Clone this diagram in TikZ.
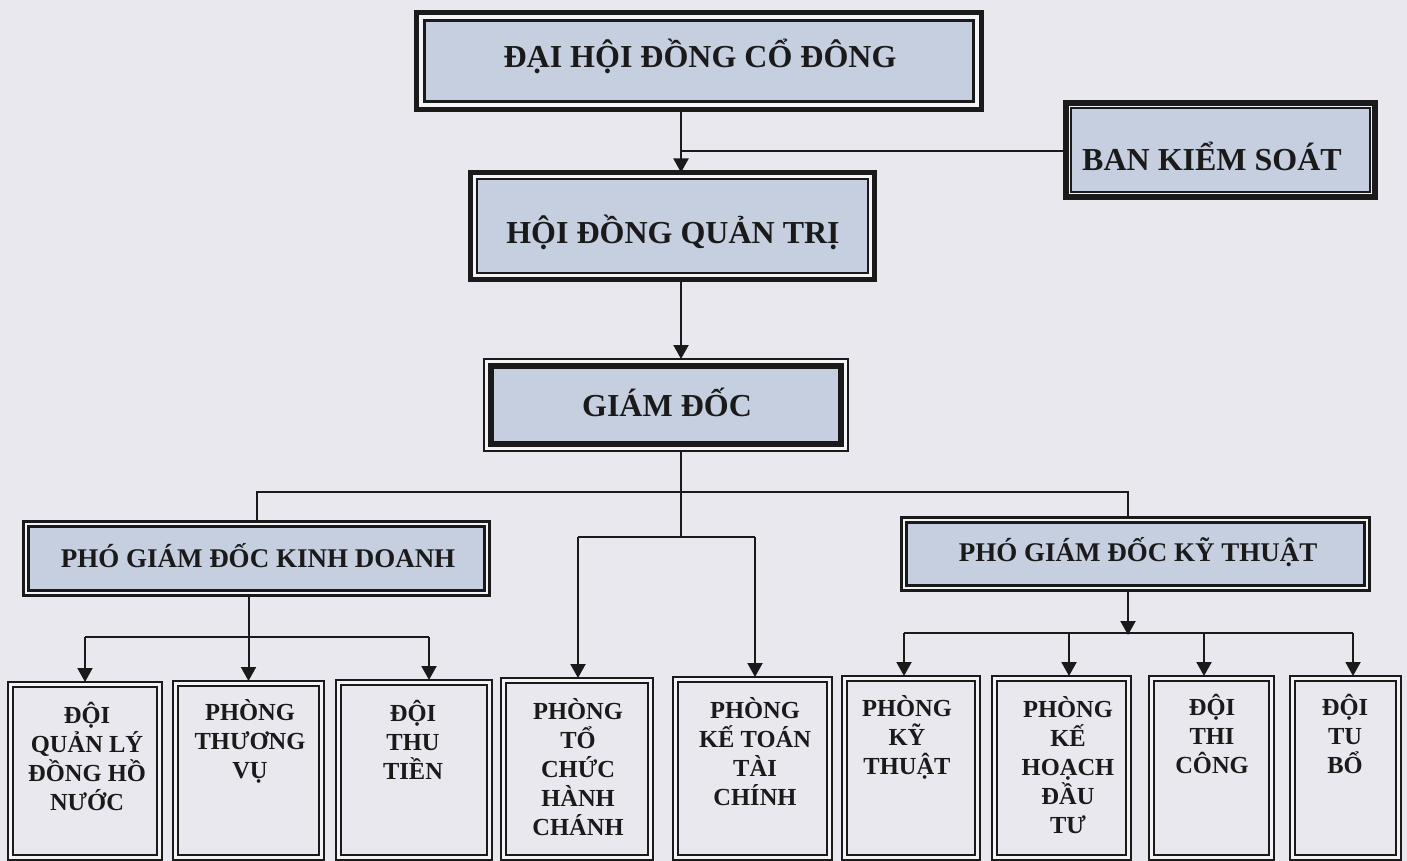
\documentclass[tikz,border=0pt]{standalone}
\usepackage{fontspec}
\setmainfont{Liberation Serif}
\usetikzlibrary{fit,arrows.meta}
\definecolor{bgc}{HTML}{E8E8EE}
\definecolor{boxc}{HTML}{C5CFE0}
\definecolor{gapc}{HTML}{F4F4F8}
\definecolor{inkc}{HTML}{1A1A1A}
\newcommand\twobox[6]{%
  \node[fit={#2 #3}, inner sep=0pt, outer sep=0pt, #4] (#1) {};
  \draw[#6] ([shift={(#5,-#5)}]#1.north west) rectangle ([shift={(-#5,#5)}]#1.south east);
}
\begin{document}
\begin{tikzpicture}[x=0.5pt,y=-0.5pt, line join=miter,
  conn/.style={draw=inkc, line width=1pt},
  arr/.style={conn, -{Triangle[width=7.5pt,length=7pt]}},
  bigtxt/.style={font=\fontsize{16}{19}\selectfont\bfseries, text=inkc, inner sep=0pt},
  midtxt/.style={font=\fontsize{13.5}{16}\selectfont\bfseries, text=inkc, inner sep=0pt},
  smalltxt/.style={font=\fontsize{12.25}{14.5}\selectfont\bfseries, text=inkc, inner sep=0pt, align=center},
  upbox/.style={draw=inkc, fill=gapc},
  upin/.style={draw=inkc, fill=boxc},
  lowbox/.style={draw=inkc, fill=gapc, line width=1.25pt},
  lowin/.style={draw=inkc, fill=bgc, line width=1.25pt},
  ]
\fill[bgc] (0,0) rectangle (1407,861);
\useasboundingbox (0,0) rectangle (1407,861);

% upper boxes
\twobox{dhdcd}{(416.5,12.5)}{(981.5,109.5)}{upbox, line width=2.5pt}{4pt}{upin, line width=1.5pt}
\twobox{bks}{(1066,103)}{(1375,197)}{upbox, line width=3pt}{2.5pt}{upin, line width=1pt}
\twobox{hdqt}{(470.5,172.5)}{(874.5,279.5)}{upbox, line width=2.5pt}{3.25pt}{upin, line width=1pt}
\twobox{gd}{(484,359)}{(848,451)}{upbox, line width=1pt}{3.5pt}{upin, line width=3pt}
\twobox{pgdkd}{(23.5,521.5)}{(489.5,595.5)}{upbox, line width=1.2pt}{2.5pt}{upin, line width=1.6pt}
\twobox{pgdkt}{(901.5,517.5)}{(1369.5,590.5)}{upbox, line width=1.2pt}{2.5pt}{upin, line width=1.6pt}

\node[bigtxt] (t-dhdcd) at (700,56) {ĐẠI HỘI ĐỒNG CỔ ĐÔNG};
\node[bigtxt] (t-bks) at (1212,156) {BAN KIỂM SOÁT};
\node[bigtxt] (t-hdqt) at (673,232) {HỘI ĐỒNG QUẢN TRỊ};
\node[bigtxt] (t-gd) at (667,402) {GIÁM ĐỐC};
\node[midtxt] (t-pgdkd) at (258,556) {PHÓ GIÁM ĐỐC KINH DOANH};
\node[midtxt] (t-pgdkt) at (1138,552) {PHÓ GIÁM ĐỐC KỸ THUẬT};

% lower boxes
\twobox{b1}{(8,682)}{(162,860)}{lowbox}{2.5pt}{lowin}
\twobox{b2}{(173,681)}{(324,860)}{lowbox}{2.5pt}{lowin}
\twobox{b3}{(336,680)}{(492,860)}{lowbox}{2.5pt}{lowin}
\twobox{b4}{(501,678)}{(653,860)}{lowbox}{2.5pt}{lowin}
\twobox{b5}{(673,677)}{(832,860)}{lowbox}{2.5pt}{lowin}
\twobox{b6}{(842,676)}{(980,860)}{lowbox}{2.5pt}{lowin}
\twobox{b7}{(992,676)}{(1131,860)}{lowbox}{2.5pt}{lowin}
\twobox{b8}{(1149,676)}{(1274,860)}{lowbox}{2.5pt}{lowin}
\twobox{b9}{(1290,676)}{(1401,860)}{lowbox}{2.5pt}{lowin}

\node[smalltxt] (t1) at (87,756) {ĐỘI\\QUẢN LÝ\\ĐỒNG HỒ\\NƯỚC};
\node[smalltxt] (t2) at (250,741) {PHÒNG\\THƯƠNG\\VỤ};
\node[smalltxt] (t3) at (413,740) {ĐỘI\\THU\\TIỀN};
\node[smalltxt] (t4) at (578,767) {PHÒNG\\TỔ\\CHỨC\\HÀNH\\CHÁNH};
\node[smalltxt] (t5) at (755,752) {PHÒNG\\KẾ TOÁN\\TÀI\\CHÍNH};
\node[smalltxt] (t6) at (907,737) {PHÒNG\\KỸ\\THUẬT};
\node[smalltxt] (t7) at (1068,765) {PHÒNG\\KẾ\\HOẠCH\\ĐẦU\\TƯ};
\node[smalltxt] (t8) at (1212,734) {ĐỘI\\THI\\CÔNG};
\node[smalltxt] (t9) at (1345,734) {ĐỘI\\TU\\BỔ};

% junction coordinates
\coordinate (j1) at (681,151);
\coordinate (j2) at (681,492);
\coordinate (j3) at (681,537);
\coordinate (j4) at (1128,492);
\coordinate (j5) at (578,537);
\coordinate (j6) at (755,537);
\coordinate (kL) at (85,637);
\coordinate (kR) at (429,637);
\coordinate (m0) at (1128,635);
\coordinate (m1) at (904,633);
\coordinate (m2) at (1069,633);
\coordinate (m3) at (1204,633);
\coordinate (m4) at (1353,633);

% connectors
\draw[arr] (dhdcd.south -| j1) -- (j1 |- hdqt.north);
\draw[conn] (j1) -- (j1 -| bks.west);
\draw[arr] (hdqt.south -| j1) -- (j1 |- gd.north);
\draw[conn] (gd.south -| j2) -- (j3);
\draw[conn] (pgdkd.north) |- (j4) -- (j4 |- pgdkt.north);
\draw[conn] (j5) -- (j6);
\draw[arr] (j5) -- (j5 |- b4.north);
\draw[arr] (j6) -- (j6 |- b5.north);
\draw[arr] (pgdkd.south -| b2.north) -- (b2.north);
\draw[conn] (kL) -- (kR);
\draw[arr] (kL) -- (kL |- b1.north);
\draw[arr] (kR) -- (kR |- b3.north);
\draw[arr] (pgdkt.south -| m0) -- (m0);
\draw[conn] (m1) -- (m4);
\draw[arr] (m1) -- (m1 |- b6.north);
\draw[arr] (m2) -- (m2 |- b7.north);
\draw[arr] (m3) -- (m3 |- b8.north);
\draw[arr] (m4) -- (m4 |- b9.north);
\end{tikzpicture}
\end{document}
